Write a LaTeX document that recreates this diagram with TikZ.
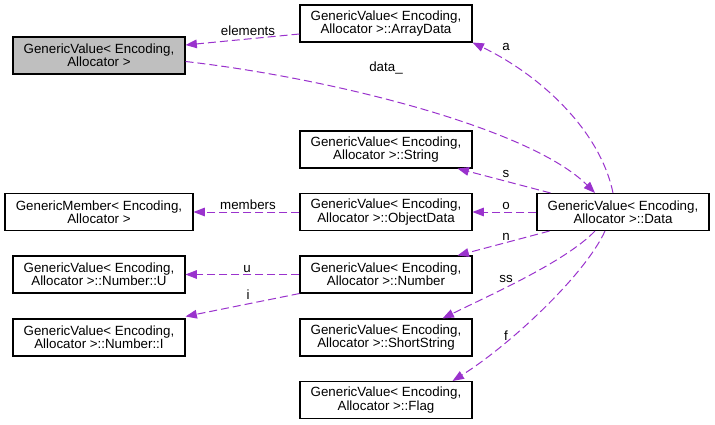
\documentclass[tikz,border=0pt]{standalone}
\usepackage{fontspec}
\setmainfont{Liberation Sans}
\usetikzlibrary{arrows.meta,calc}
\definecolor{morado}{HTML}{9A32CD}
\definecolor{gris}{HTML}{BFBFBF}
\tikzset{
  clase/.style={draw=black, line width=0.8pt, fill=white, align=center, minimum width=129pt, minimum height=27.75pt, inner sep=0pt, font=\fontsize{10}{10}\selectfont},
  principal/.style={clase, fill=gris},
  uso/.style={draw=morado, line width=0.75pt, dash pattern=on 6pt off 3pt, -{Triangle[length=8.5pt,width=6.5pt]}},
  etiqueta/.style={font=\fontsize{10}{10}\selectfont, inner sep=0pt},
}

\begin{document}
\begin{tikzpicture}[x=0.75pt, y=-0.75pt]
          \useasboundingbox (0,0) rectangle (715,425);
          % clases
          \node[principal] (gv) at (99,55.5) {GenericValue< Encoding,\\Allocator >};
          \node[clase] (arraydata) at (386,23.5) {GenericValue< Encoding,\\Allocator >::ArrayData};
          \node[clase] (string) at (386,149.5) {GenericValue< Encoding,\\Allocator >::String};
          \node[clase] (objectdata) at (386,212) {GenericValue< Encoding,\\Allocator >::ObjectData};
          \node[clase] (number) at (386,274.5) {GenericValue< Encoding,\\Allocator >::Number};
          \node[clase] (shortstring) at (386,337.5) {GenericValue< Encoding,\\Allocator >::ShortString};
          \node[clase] (flag) at (386,400) {GenericValue< Encoding,\\Allocator >::Flag};
          \node[clase] (data) at (623,212) {GenericValue< Encoding,\\Allocator >::Data};
          \node[clase, minimum width=141pt] (member) at (99,212) {GenericMember< Encoding,\\Allocator >};
          \node[clase] (numu) at (99,274.5) {GenericValue< Encoding,\\Allocator >::Number::U};
          \node[clase] (numi) at (99,337.5) {GenericValue< Encoding,\\Allocator >::Number::I};
          % relaciones
          \draw[uso] ($(arraydata.west)+(0,10.5)$) -- ($(gv.east)+(0,-10.5)$);
          \draw[uso] ($(gv.east)+(0,6)$) .. controls (330,78) and (530,128) .. ($(data.north)+(-28,0)$);
          \draw[uso] ($(data.north)+(-10,0)$) .. controls (600,130) and (540,75) .. (arraydata.south east);
          \draw[uso] ($(data.north west)+(14,0)$) -- ($(string.south east)+(-15,0)$);
          \draw[uso] (data.west) -- (objectdata.east);
          \draw[uso] ($(data.south west)+(13,0)$) -- ($(number.north east)+(-15,0)$);
          \draw[uso] ($(data.south)+(-28,0)$) .. controls (565,262) and (490,295) .. ($(shortstring.north east)+(-30,0)$);
          \draw[uso] ($(data.south)+(-18,0)$) .. controls (585,275) and (510,345) .. ($(flag.north east)+(-20,0)$);
          \draw[uso] (objectdata.west) -- (member.east);
          \draw[uso] (number.west) -- (numu.east);
          \draw[uso] (number.south west) -- ($(numi.north east)+(0,-2)$);
          % etiquetas
          \node[etiqueta] (lelements) at (248,31) {elements};
          \node[etiqueta] (ldata) at (386,68) {data\_};
          \node[etiqueta] (la) at (506,47) {a};
          \node[etiqueta] (ls) at (506,174) {s};
          \node[etiqueta] (lo) at (506,206) {o};
          \node[etiqueta] (ln) at (506,237) {n};
          \node[etiqueta] (lss) at (506,279) {ss};
          \node[etiqueta] (lf) at (506,336) {f};
          \node[etiqueta] (lmembers) at (248,205) {members};
          \node[etiqueta] (lu) at (247,269) {u};
          \node[etiqueta] (li) at (248,295) {i};
        \end{tikzpicture}
\end{document}
